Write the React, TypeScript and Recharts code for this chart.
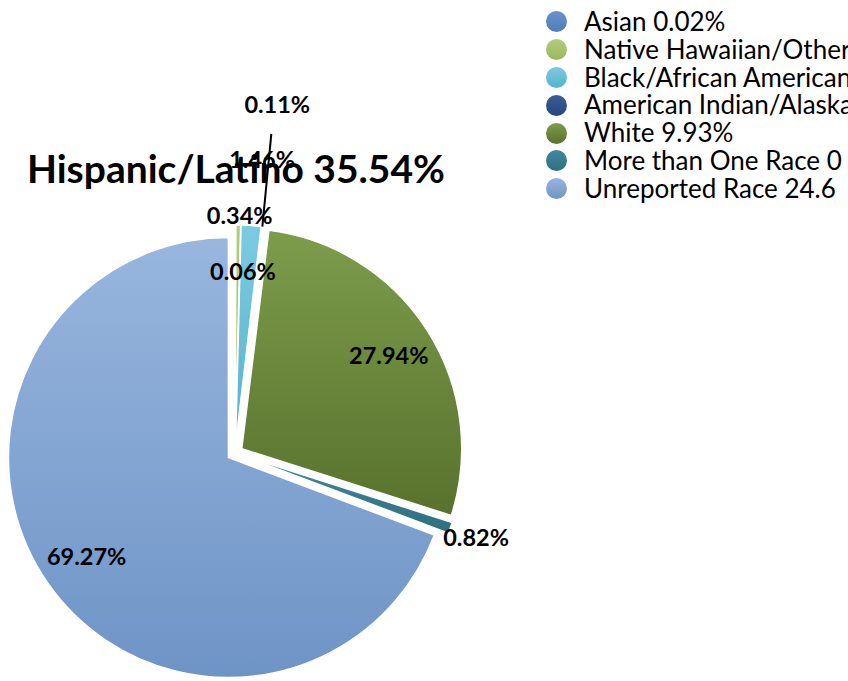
import React from "react";
import { PieChart, Pie, Cell, Sector, Legend } from "recharts";

// Hispanic/Latino breakdown by race (slice values, %)
const races = [
  "Asian",
  "Native Hawaiian/Other Pacific Islander",
  "Black/African American",
  "American Indian/Alaska Native",
  "White",
  "More than One Race",
  "Unreported Race",
];
const sliceValues = [0.06, 0.34, 1.46, 0.11, 27.94, 0.82, 69.27];
const legendLabels = [
  "Asian 0.02%",
  "Native Hawaiian/Other Pacific Islander",
  "Black/African American",
  "American Indian/Alaska Native",
  "White 9.93%",
  "More than One Race 0",
  "Unreported Race 24.6",
];
const chartTitle = "Hispanic/Latino 35.54%";

// top and bottom shade of each slice
const topColors = ["#6a93cc", "#b4cc7c", "#7ccbe0", "#3b5e96", "#7d9c4b", "#43899d", "#98b6de"];
const bottomColors = ["#4f7bb8", "#9ab85f", "#56b3cd", "#26467c", "#58722d", "#2c6f80", "#6e94c6"];

// label distance from centre, as a fraction of the radius
const labelRadius = [0.83, 1.08, 1.34, 1.6, 0.83, 1.16, 0.82];
const labelTurn = [2.4, 0.3, 1.2, 0, 0, 0, 0];

const data = races.map((name, i) => ({ name, value: sliceValues[i] }));

const RAD = Math.PI / 180;
const EXPLODE = 8;

const ExplodedSector = (props: any) => {
  const { cx, cy, midAngle } = props;
  const dx = EXPLODE * Math.cos(-midAngle * RAD);
  const dy = EXPLODE * Math.sin(-midAngle * RAD);
  return <Sector {...props} cx={cx + dx} cy={cy + dy} />;
};

const renderLabel = (props: any) => {
  const { cx, cy, midAngle, outerRadius, index, value } = props;
  const a = (midAngle - labelTurn[index]) * RAD;
  const r = outerRadius * labelRadius[index];
  const x = cx + r * Math.cos(-a);
  const y = cy + r * Math.sin(-a);
  const text = (
    <text
      x={x}
      y={y}
      textAnchor="middle"
      dominantBaseline="central"
      fontFamily="Lato, sans-serif"
      fontWeight={700}
      fontSize={23.5}
      fill="#000"
    >
      {`${value.toFixed(2)}%`}
    </text>
  );
  if (index !== 3) return text;
  const m = midAngle * RAD;
  const r0 = outerRadius + EXPLODE;
  const r1 = outerRadius * 1.46;
  return (
    <g>
      <line
        x1={cx + r0 * Math.cos(-m)}
        y1={cy + r0 * Math.sin(-m)}
        x2={cx + r1 * Math.cos(-(m + 0.4 * RAD))}
        y2={cy + r1 * Math.sin(-(m + 0.4 * RAD))}
        stroke="#000"
        strokeWidth={2}
      />
      {text}
    </g>
  );
};

const renderLegend = () => (
  <div style={{ fontFamily: "Lato, sans-serif", fontSize: 26, lineHeight: "27.8px", whiteSpace: "nowrap" }}>
    {legendLabels.map((label, i) => (
      <div key={label} style={{ display: "flex", alignItems: "center", height: 27.8 }}>
        <span
          style={{
            display: "inline-block",
            flexShrink: 0,
            width: 21,
            height: 21,
            borderRadius: "50%",
            marginRight: 17,
            background: `linear-gradient(${topColors[i]}, ${bottomColors[i]})`,
          }}
        />
        <span>{label}</span>
      </div>
    ))}
  </div>
);

export default function App() {
  return (
    <div style={{ position: "fixed", left: 0, top: 0, width: 848, height: 681, overflow: "hidden", background: "#fff" }}>
      <div
        style={{
          position: "absolute",
          left: 0,
          width: 472,
          top: 145,
          textAlign: "center",
          fontFamily: "Lato, sans-serif",
          fontWeight: 700,
          fontSize: 39,
          color: "#000",
        }}
      >
        {chartTitle}
      </div>
      <PieChart width={848} height={681} margin={{ top: 0, right: 0, bottom: 0, left: 0 }}>
        <defs>
          {topColors.map((c, i) => (
            <linearGradient key={i} id={`slice${i}`} x1="0" y1="0" x2="0" y2="1">
              <stop offset="0%" stopColor={c} />
              <stop offset="100%" stopColor={bottomColors[i]} />
            </linearGradient>
          ))}
        </defs>
        <Pie
          data={data}
          dataKey="value"
          nameKey="name"
          cx={235}
          cy={453}
          outerRadius={220}
          startAngle={90}
          endAngle={-270}
          stroke="#fff"
          strokeWidth={1.5}
          shape={ExplodedSector}
          label={renderLabel}
          labelLine={false}
          isAnimationActive={false}
        >
          {data.map((d, i) => (
            <Cell key={d.name} fill={`url(#slice${i})`} />
          ))}
        </Pie>
        <Legend
          content={renderLegend}
          wrapperStyle={{ position: "absolute", left: 546, top: 8, width: 302, overflow: "hidden" }}
        />
      </PieChart>
    </div>
  );
}
